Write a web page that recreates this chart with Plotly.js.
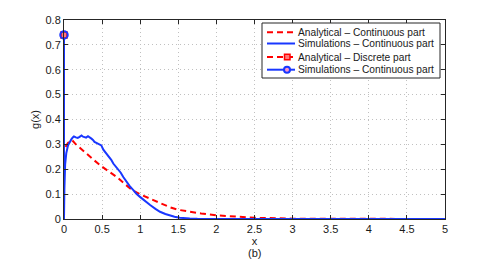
<!DOCTYPE html>
<html>
<head>
<meta charset="utf-8">
<script src="https://cdn.plot.ly/plotly-3.0.1.min.js"></script>
<style>html,body{margin:0;padding:0;background:#fff;}#chart{width:491px;height:259px;}</style>
</head>
<body>
<div id="chart"></div>
<script>
// Analytical – Continuous part
var anaX = [0.02, 0.05, 0.08, 0.11, 0.15, 0.2, 0.3, 0.4, 0.5, 0.6, 0.7, 0.8, 0.9, 1.0, 1.1, 1.2, 1.3, 1.4, 1.5, 1.6, 1.8, 2.0, 2.2, 2.5, 3.0, 3.5, 4.0, 4.5, 5.0];
var anaY = [0.29, 0.305, 0.314, 0.316, 0.302, 0.288, 0.262, 0.235, 0.21, 0.19, 0.167, 0.14, 0.115, 0.099, 0.085, 0.071, 0.058, 0.046, 0.037, 0.031, 0.022, 0.015, 0.01, 0.005, 0.0015, 0.0005, 0.0002, 0.0001, 0.0];
// Simulations – Continuous part
var simX = [0, 0, 0.005, 0.015, 0.03, 0.053, 0.075, 0.096, 0.115, 0.13, 0.155, 0.18, 0.205, 0.23, 0.25, 0.27, 0.29, 0.315, 0.34, 0.36, 0.38, 0.40, 0.425, 0.45, 0.47, 0.49, 0.516, 0.55, 0.58, 0.62, 0.647, 0.665, 0.71, 0.745, 0.778, 0.82, 0.86, 0.91, 0.95, 0.997, 1.06, 1.13, 1.2, 1.26, 1.33, 1.39, 1.45, 1.52, 1.58, 1.65, 1.75, 1.9, 2.2, 2.6, 3.0, 3.5, 4.0, 4.5, 5.0];
var simY = [0.74, 0, 0.12, 0.22, 0.265, 0.296, 0.31, 0.32, 0.328, 0.332, 0.328, 0.326, 0.33, 0.336, 0.331, 0.33, 0.327, 0.333, 0.329, 0.323, 0.318, 0.31, 0.306, 0.303, 0.3, 0.296, 0.279, 0.265, 0.256, 0.238, 0.223, 0.216, 0.203, 0.186, 0.169, 0.15, 0.133, 0.116, 0.101, 0.089, 0.072, 0.056, 0.041, 0.029, 0.02, 0.013, 0.009, 0.005, 0.003, 0.002, 0.001, 0.0005, 0.0002, 0.0001, 0, 0, 0, 0, 0];
// Discrete parts
var discX = [0];
var anaDiscY = [0.74];
var simDiscY = [0.74];

var seriesNames = ['Analytical – Continuous part', 'Simulations – Continuous part', 'Analytical – Discrete part', 'Simulations – Continuous part'];

var xTicks = [0, 0.5, 1, 1.5, 2, 2.5, 3, 3.5, 4, 4.5, 5];
var xTickText = ['0', '0.5', '1', '1.5', '2', '2.5', '3', '3.5', '4', '4.5', '5'];
var yTicks = [0, 0.1, 0.2, 0.3, 0.4, 0.5, 0.6, 0.7, 0.8];
var yTickText = ['0', '0.1', '0.2', '0.3', '0.4', '0.5', '0.6', '0.7', '0.8'];

var RED = 'rgb(255,0,0)';
var BLUE = 'rgb(25,55,255)';
var FONT = 'Liberation Sans, Arial, sans-serif';

var traces = [
  {x: anaX, y: anaY, mode: 'lines', name: seriesNames[0],
   line: {color: RED, width: 2, dash: '6px,4px'}},
  {x: simX, y: simY, mode: 'lines', name: seriesNames[1],
   line: {color: BLUE, width: 2}},
  {x: discX, y: anaDiscY, mode: 'markers', name: seriesNames[2],
   marker: {symbol: 'square', size: 6, color: 'rgb(255,120,120)', line: {color: RED, width: 1.5}}, cliponaxis: false},
  {x: discX, y: simDiscY, mode: 'markers', name: seriesNames[3],
   marker: {symbol: 'circle-open', size: 7.5, color: BLUE, line: {color: BLUE, width: 2}}, cliponaxis: false}
];

var M = {l: 64, r: 46, t: 20, b: 40};
var W = 491, H = 259;
var PW = W - M.l - M.r, PH = H - M.t - M.b;
function px(x) { return (x - M.l) / PW; }
function py(y) { return (H - M.b - y) / PH; }

// hand-built legend (MATLAB-style compact box)
var shapes = [], annotations = [];
var box = {x0: 262, x1: 440, y0: 23, y1: 78};
shapes.push({type: 'rect', xref: 'paper', yref: 'paper', x0: px(box.x0), x1: px(box.x1), y0: py(box.y1), y1: py(box.y0),
  line: {color: '#262626', width: 1}, fillcolor: '#fff', layer: 'above'});
var rowY = [32.3, 43.5, 57, 69.7];
var rowStyle = [
  {color: RED, dash: '6px,4px', marker: null},
  {color: BLUE, dash: 'solid', marker: null},
  {color: RED, dash: '6px,4px', marker: 'square'},
  {color: BLUE, dash: 'solid', marker: 'circle'}
];
for (var i = 0; i < 4; i++) {
  var s = rowStyle[i], yy = rowY[i];
  shapes.push({type: 'line', xref: 'paper', yref: 'paper', x0: px(267), x1: px(295), y0: py(yy), y1: py(yy),
    line: {color: s.color, width: 2, dash: s.dash}, layer: 'above'});
  if (s.marker === 'square') {
    shapes.push({type: 'rect', xref: 'paper', yref: 'paper', x0: px(284.5), x1: px(290), y0: py(yy + 2.75), y1: py(yy - 2.75),
      line: {color: RED, width: 1.5}, fillcolor: 'rgb(255,120,120)', layer: 'above'});
  } else if (s.marker === 'circle') {
    shapes.push({type: 'circle', xref: 'paper', yref: 'paper', x0: px(284), x1: px(290), y0: py(yy + 3), y1: py(yy - 3),
      line: {color: BLUE, width: 2}, fillcolor: 'rgb(255,150,200)', layer: 'above'});
  }
  annotations.push({text: seriesNames[i], xref: 'paper', yref: 'paper', x: px(296), y: py(yy),
    xanchor: 'left', yanchor: 'middle', showarrow: false,
    font: {family: FONT, size: 10.2, color: '#1a1a1a'}});
}
annotations.push({text: '(b)', xref: 'paper', yref: 'paper', x: 0.5, y: 0, xanchor: 'center', yanchor: 'top',
  showarrow: false, font: {family: FONT, size: 11, color: '#1a1a1a'}, yshift: -26});

var axisCommon = {
  showline: true, linecolor: '#262626', linewidth: 1, mirror: 'ticks',
  ticks: 'inside', ticklen: 4, tickcolor: '#262626', tickwidth: 1,
  showgrid: true, gridcolor: '#c0c0c0', griddash: '1px,3px', gridwidth: 1,
  zeroline: false,
  tickfont: {family: FONT, size: 11, color: '#1a1a1a'}
};

var layout = {
  width: W, height: H,
  margin: M,
  paper_bgcolor: '#fff', plot_bgcolor: '#fff',
  showlegend: false,
  font: {family: FONT, size: 11, color: '#1a1a1a'},
  xaxis: Object.assign({}, axisCommon, {
    range: [0, 5], tickvals: xTicks, ticktext: xTickText, tickangle: 0,
    title: {text: 'x', font: {size: 11}, standoff: 2}
  }),
  yaxis: Object.assign({}, axisCommon, {
    range: [0, 0.8], tickvals: yTicks, ticktext: yTickText,
    title: {text: 'g(x)', font: {size: 11}, standoff: 3}
  }),
  shapes: shapes,
  annotations: annotations
};

Plotly.newPlot('chart', traces, layout, {staticPlot: true, displayModeBar: false});
</script>
</body>
</html>
